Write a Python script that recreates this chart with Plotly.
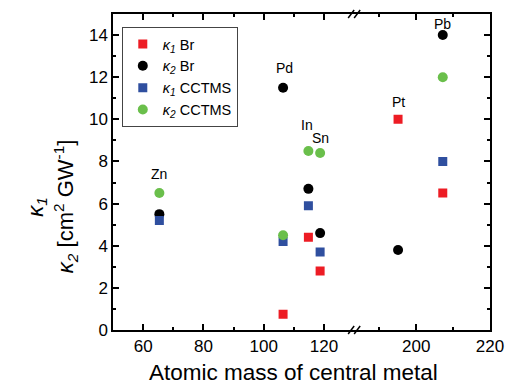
import plotly.graph_objects as go

# ---- data ----
metals = ["Zn", "Pd", "In", "Sn", "Pt", "Pb"]
mass = [65.38, 106.42, 114.82, 118.71, 195.08, 207.2]
k1_br = [None, 0.75, 4.4, 2.8, 10.0, 6.5]
k2_br = [5.5, 11.5, 6.7, 4.6, 3.8, 14.0]
k1_cctms = [5.2, 4.2, 5.9, 3.7, None, 8.0]
k2_cctms = [6.5, 4.5, 8.5, 8.4, None, 12.0]
x_ticks_left = [60, 80, 100, 120]
x_minor_left = [70, 90, 110]
x_ticks_right = [200, 220]
x_minor_right = [190, 210]
y_ticks = [0, 2, 4, 6, 8, 10, 12, 14]

BREAK = 150
FONT = "Arial, Liberation Sans, sans-serif"

series = [
    ("<i>κ<sub>1</sub></i> Br", k1_br, "#ed1c24", "square", 9),
    ("<i>κ<sub>2</sub></i> Br", k2_br, "#000000", "circle", 10),
    ("<i>κ<sub>1</sub></i> CCTMS", k1_cctms, "#2f4f9f", "square", 9),
    ("<i>κ<sub>2</sub></i> CCTMS", k2_cctms, "#6abf4b", "circle", 10),
]

fig = go.Figure()
for name, vals, color, sym, size in series:
    for side in ("left", "right"):
        xs, ys = [], []
        for m, v in zip(mass, vals):
            if v is None:
                continue
            if (m < BREAK) == (side == "left"):
                xs.append(m)
                ys.append(v)
        fig.add_trace(go.Scatter(
            x=xs, y=ys, mode="markers", name=name, legendgroup=name,
            showlegend=(side == "left"),
            xaxis="x" if side == "left" else "x2",
            yaxis="y" if side == "left" else "y2",
            marker=dict(color=color, symbol=sym, size=size, line=dict(width=0)),
        ))

# labels above the topmost point of each metal
label_shift = {"Zn": (0, 19), "Pd": (1, 20), "In": (-1, 26), "Sn": (0, 15), "Pt": (0, 17), "Pb": (0, 11)}
for i, mt in enumerate(metals):
    vals = [s[1][i] for s in series if s[1][i] is not None]
    top = max(vals)
    dx, dy = label_shift[mt]
    fig.add_annotation(
        x=mass[i], y=top, xref="x" if mass[i] < BREAK else "x2", yref="y",
        text=mt, showarrow=False, xshift=dx, yshift=dy,
        font=dict(family=FONT, size=14, color="black"),
    )

axis_common = dict(
    showline=True, linecolor="black", linewidth=1.5,
    ticks="inside", ticklen=6, tickwidth=1.5, tickcolor="black",
    showgrid=False, zeroline=False,
    tickfont=dict(family=FONT, size=17, color="black"),
)
split = (363 - 113) / 386

fig.update_layout(
    width=516, height=390,
    margin=dict(l=113, r=17, t=14, b=60),
    paper_bgcolor="white", plot_bgcolor="white",
    font=dict(family=FONT, color="black"),
    xaxis=dict(domain=[0, split], range=[50, 131], tickmode="array", tickvals=x_ticks_left,
               mirror="ticks", anchor="y",
               minor=dict(tickmode="array", tickvals=x_minor_left, ticks="inside", ticklen=3.5,
                          tickwidth=1.5, tickcolor="black"),
               **axis_common),
    xaxis2=dict(domain=[split, 1], range=[184, 220], tickmode="array", tickvals=x_ticks_right,
                mirror="ticks", anchor="y",
                minor=dict(tickmode="array", tickvals=x_minor_right, ticks="inside", ticklen=3.5,
                           tickwidth=1.5, tickcolor="black"),
                **axis_common),
    yaxis=dict(domain=[0, 1], range=[0, 15], tickmode="array", tickvals=y_ticks, anchor="x",
               minor=dict(dtick=1, ticks="inside", ticklen=3.5, tickwidth=1.5, tickcolor="black"),
               **axis_common),
    yaxis2=dict(domain=[0, 1], range=[0, 15], tickmode="array", tickvals=y_ticks, anchor="x2",
                side="right", showticklabels=False,
                minor=dict(dtick=1, ticks="inside", ticklen=3.5, tickwidth=1.5, tickcolor="black"),
                **axis_common),
    legend=dict(x=(122 - 113) / 386, y=(330 - 27) / 316, xanchor="left", yanchor="top",
                bordercolor="#444444", borderwidth=1, bgcolor="white",
                font=dict(family=FONT, size=14.5, color="black"), tracegroupgap=0),
    showlegend=True,
)

# axis titles
fig.add_annotation(xref="paper", yref="paper", x=(298 - 113) / 386, y=(330 - 372) / 316,
                   text="Atomic mass of central metal", showarrow=False,
                   font=dict(family=FONT, size=22.5), xanchor="center", yanchor="middle")
fig.add_annotation(xref="paper", yref="paper", x=(35 - 113) / 386, y=(330 - 207) / 316,
                   text="<i>κ<sub>1</sub></i>", showarrow=False, textangle=-90,
                   font=dict(family=FONT, size=22), xanchor="center", yanchor="middle")
fig.add_annotation(xref="paper", yref="paper", x=(64 - 113) / 386, y=(330 - 206) / 316,
                   text="<i>κ<sub>2</sub></i> [cm<sup>2</sup> GW<sup>-1</sup>]", showarrow=False,
                   textangle=-90, font=dict(family=FONT, size=22), xanchor="center", yanchor="middle")

# axis break marks
for yp in (0, 1):
    for off in (-6, 0):
        fig.add_shape(type="line", xref="paper", yref="paper",
                      xsizemode="pixel", ysizemode="pixel", xanchor=split, yanchor=yp,
                      x0=off - 3, y0=-4, x1=off + 3, y1=4,
                      line=dict(color="black", width=1.5))

fig.write_html("out.html")
